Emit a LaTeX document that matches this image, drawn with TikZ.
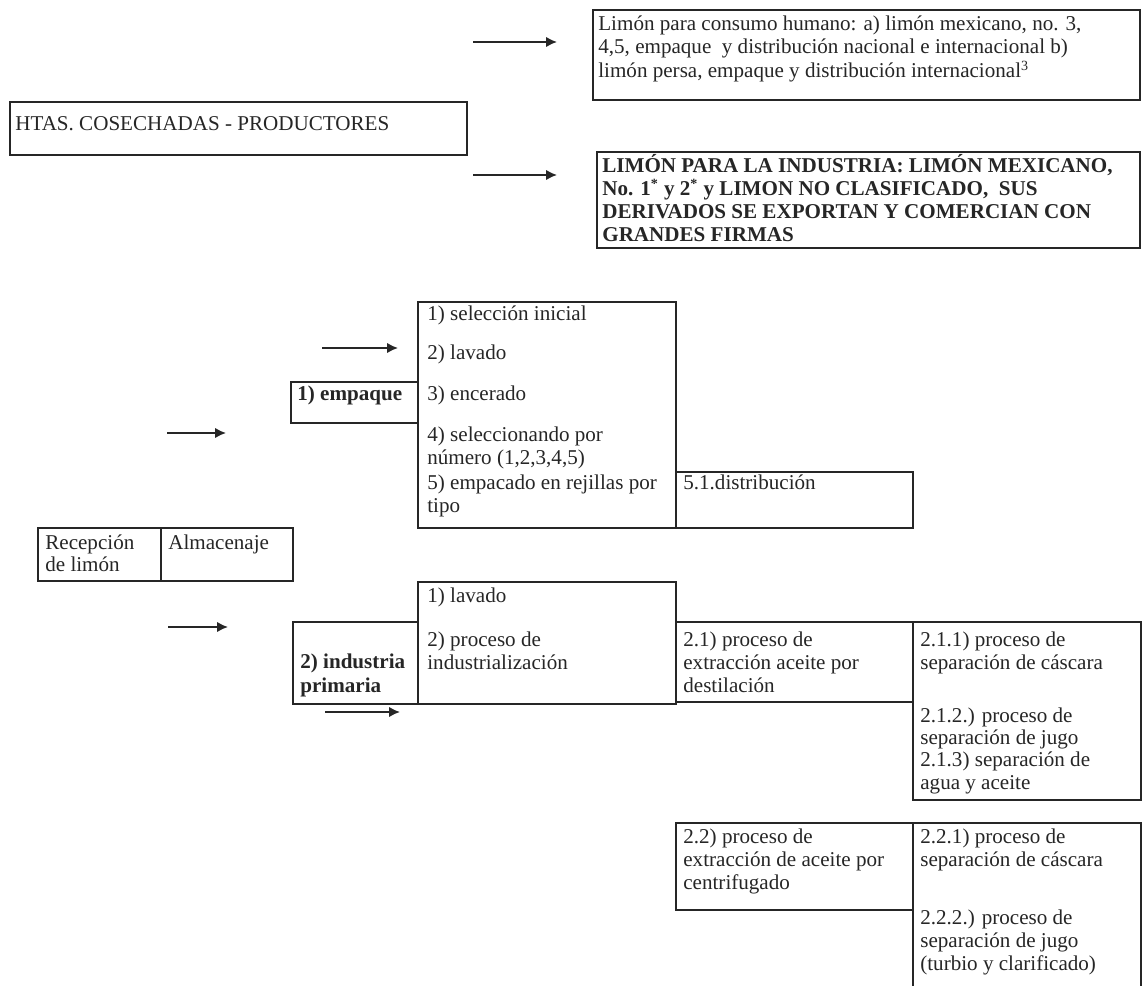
\documentclass[tikz,border=0pt]{standalone}
\usepackage{fontspec}
\setmainfont{Liberation Serif}
\usetikzlibrary{arrows.meta,fit}
\begin{document}
\begin{tikzpicture}[x=0.02cm,y=-0.02cm,
  box/.style={draw=black!85,line width=1pt,inner sep=0pt},
  tbox/.style={draw=black!85,line width=1.5pt,inner sep=0pt},
  txt/.style={inner sep=0pt,anchor=base west,text=black!85,font=\fontsize{12}{14}\selectfont},
  btxt/.style={txt,font=\fontsize{12}{14}\selectfont\bfseries},
  arr/.style={draw=black!85,-{Latex[length=2.2mm,width=2.1mm]},line width=1pt}]
\useasboundingbox (0,0) rectangle (1143,986);
\fill[white] (0,0) rectangle (1143,986);

% ---- top section
\node[tbox,fit={(593,10)(1140,100)}] (hum) {};
\node[txt] (hum1) at (598,31) {Limón para consumo humano: a) limón mexicano, no. 3,};
\node[txt] (hum2) at (598,54) {4,5, empaque\ \ y distribución nacional e internacional b)};
\node[txt] (hum3) at (598,78) {limón persa, empaque y distribución internacional\textsuperscript{3}};

\node[tbox,fit={(10,102)(467,155)}] (htas) {};
\node[txt] (htas1) at (15,131) {HTAS. COSECHADAS - PRODUCTORES};

\node[tbox,fit={(597,152)(1140,248)}] (ind) {};
\node[btxt] (ind1) at (602,173) {LIMÓN PARA LA INDUSTRIA: LIMÓN MEXICANO,};
\node[btxt] (ind2) at (602,196) {No. 1\textsuperscript{*} y 2\textsuperscript{*} y LIMON NO CLASIFICADO,\ \ SUS};
\node[btxt] (ind3) at (602,219) {DERIVADOS SE EXPORTAN Y COMERCIAN CON};
\node[btxt] (ind4) at (602,242) {GRANDES FIRMAS};

\coordinate (a1s) at (473,42); \coordinate (a1e) at (557,42);
\draw[arr] (a1s) -- (a1e);
\coordinate (a2s) at (473,175); \coordinate (a2e) at (557,175);
\draw[arr] (a2s) -- (a2e);

% ---- empaque
\node[box,fit={(418,302)(676,528)}] (steps) {};
\node[txt] (s1) at (427,321) {1) selección inicial};
\node[txt] (s2) at (427,360) {2) lavado};
\node[txt] (s3) at (427,401) {3) encerado};
\node[txt] (s4) at (427,441) {4) seleccionando por};
\node[txt] (s4b) at (427,464) {número (1,2,3,4,5)};
\node[txt] (s5) at (427,489) {5) empacado en rejillas por};
\node[txt] (s5b) at (427,512) {tipo};

\node[box,fit={(291,382)(418,423)}] (emp) {};
\node[btxt] (emp1) at (297,401) {1) empaque};

\node[box,fit={(676,472)(913,528)}] (dist) {};
\node[txt] (dist1) at (683,489) {5.1.distribución};

\coordinate (a3s) at (322,348); \coordinate (a3e) at (398,348);
\draw[arr] (a3s) -- (a3e);
\coordinate (a4s) at (167,433); \coordinate (a4e) at (226,433);
\draw[arr] (a4s) -- (a4e);

% ---- recepcion
\node[box,fit={(38,528)(161,581)}] (rec) {};
\node[txt] (rec1) at (45,549) {Recepción};
\node[txt] (rec2) at (45,571) {de limón};
\node[box,fit={(161,528)(293,581)}] (alm) {};
\node[txt] (alm1) at (168,549) {Almacenaje};

% ---- industria
\coordinate (a5s) at (168,627); \coordinate (a5e) at (228,627);
\draw[arr] (a5s) -- (a5e);
\node[box,fit={(293,622)(418,704)}] (prim) {};
\node[btxt] (prim1) at (300,668) {2) industria};
\node[btxt] (prim2) at (300,692) {primaria};
\coordinate (a6s) at (325,712); \coordinate (a6e) at (400,712);
\draw[arr] (a6s) -- (a6e);

\node[box,fit={(418,582)(676,704)}] (lav) {};
\node[txt] (lav1) at (427,602) {1) lavado};
\node[txt] (lav2) at (427,646) {2) proceso de};
\node[txt] (lav3) at (427,669) {industrialización};

\node[box,fit={(676,622)(913,702)}] (dest) {};
\node[txt] (dest1) at (683,646) {2.1) proceso de};
\node[txt] (dest2) at (683,669) {extracción aceite por};
\node[txt] (dest3) at (683,692) {destilación};

\node[box,fit={(913,622)(1141,800)}] (dsub) {};
\node[txt] (dsub1) at (920,646) {2.1.1) proceso de};
\node[txt] (dsub2) at (920,669) {separación de cáscara};
\node[txt] (dsub3) at (920,722) {2.1.2.) proceso de};
\node[txt] (dsub4) at (920,744) {separación de jugo};
\node[txt] (dsub5) at (920,766) {2.1.3) separación de};
\node[txt] (dsub6) at (920,789) {agua y aceite};

\node[box,fit={(676,823)(913,910)}] (cent) {};
\node[txt] (cent1) at (683,843) {2.2) proceso de};
\node[txt] (cent2) at (683,866) {extracción de aceite por};
\node[txt] (cent3) at (683,889) {centrifugado};

\node[box,fit={(913,823)(1141,992)}] (csub) {};
\node[txt] (csub1) at (920,843) {2.2.1) proceso de};
\node[txt] (csub2) at (920,866) {separación de cáscara};
\node[txt] (csub3) at (920,924) {2.2.2.) proceso de};
\node[txt] (csub4) at (920,947) {separación de jugo};
\node[txt] (csub5) at (920,970) {(turbio y clarificado)};
\end{tikzpicture}
\end{document}
